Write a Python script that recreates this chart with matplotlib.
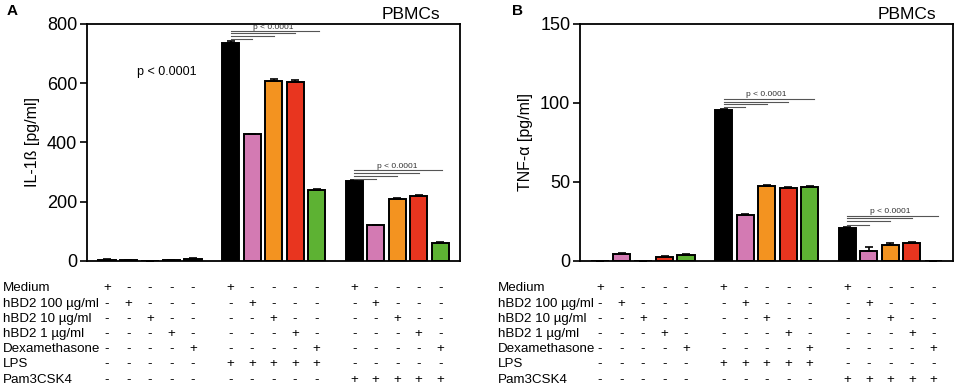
import matplotlib.pyplot as plt
import matplotlib.transforms as mtransforms

plt.rcParams['font.family'] = ['Liberation Sans', 'DejaVu Sans']

# 15 Bedingungen in 3 Gruppen (ohne Stimulus, LPS, Pam3CSK4)
treat_colors = ['#000000', '#d37ab3', '#f39320', '#e8351f', '#5db233']
il1b = [5, 4, 0, 2, 7, 736, 427, 606, 605, 241, 269, 120, 208, 220, 60]
il1b_err = [2, 1, 0, 1, 3, 8, 3, 8, 5, 3, 4, 3, 3, 4, 3]
tnfa = [0.3, 4.7, 0.2, 2.8, 3.8, 95.5, 29, 47.5, 46.3, 46.9, 20.9, 6.1, 10.4, 11.4, 0.3]
tnfa_err = [0, 0.6, 0, 0.5, 0.5, 0.8, 0.6, 0.6, 0.5, 0.5, 0.6, 2.5, 0.8, 0.6, 0]

row_labels = ['Medium', 'hBD2 100 µg/ml', 'hBD2 10 µg/ml', 'hBD2 1 µg/ml',
              'Dexamethasone', 'LPS', 'Pam3CSK4']
medium = ['+', '-', '-', '-', '-'] * 3
hbd2_100 = ['-', '+', '-', '-', '-'] * 3
hbd2_10 = ['-', '-', '+', '-', '-'] * 3
hbd2_1 = ['-', '-', '-', '+', '-'] * 3
dexa = ['-', '-', '-', '-', '+'] * 3
lps = ['-'] * 5 + ['+'] * 5 + ['-'] * 5
pam = ['-'] * 10 + ['+'] * 5
table_rows = [medium, hbd2_100, hbd2_10, hbd2_1, dexa, lps, pam]
row_y = [288, 304, 319, 334, 349, 364, 380]  # Pixelzeilen der Tabelle

# x-Positionen: 5 Balken pro Gruppe, Lücke zwischen den Gruppen
xpos = [g * 5.75 + i for g in range(3) for i in range(5)]
colors = treat_colors * 3

fig = plt.figure(figsize=(9.57, 3.90), dpi=100)
ax_a = fig.add_axes([0.0909, 0.3308, 0.3898, 0.6077])
ax_b = fig.add_axes([0.6061, 0.3308, 0.3898, 0.6077])


def draw_panel(ax, vals, errs, ymax, step, ylabel, pb_x):
    ax.bar(xpos, vals, width=0.8, color=colors, edgecolor='black', linewidth=1.4, zorder=2)
    ax.errorbar(xpos, vals, yerr=[[0] * len(errs), errs], fmt='none', ecolor='black',
                elinewidth=1.2, capsize=3, capthick=1.2, zorder=3)
    ax.set_xlim(-0.93, 16.42)
    ax.set_ylim(0, ymax)
    ax.set_yticks(range(0, ymax + 1, step))
    ax.set_xticks([])
    ax.tick_params(axis='y', direction='out', length=5, width=1.2, labelsize=13, pad=2)
    for s in ax.spines.values():
        s.set_linewidth(1.3)
    ax.set_ylabel(ylabel, fontsize=11.5, labelpad=5)
    ax.text(pb_x, 1.038, 'PBMCs', transform=ax.transAxes, ha='center', va='center',
            fontsize=12.5)

    # Tabelle unter der Achse
    trans = mtransforms.blended_transform_factory(ax.transData, fig.transFigure)
    for r, row in enumerate(table_rows):
        yf = 1 - row_y[r] / 390
        for x, sign in zip(xpos, row):
            ax.text(x, yf, sign, transform=trans, ha='center', va='center', fontsize=9.6,
                    clip_on=False)


def sig_lines(ax, start, ends, ys, text_x, text_y):
    for e, y in zip(ends, ys):
        ax.plot([start, e], [y, y], color='#555555', linewidth=0.8, zorder=4)
    ax.text(text_x, text_y, 'p < 0.0001', ha='center', va='bottom', fontsize=6,
            color='#333333')


draw_panel(ax_a, il1b, il1b_err, 800, 200, 'IL-1ß [pg/ml]', 0.869)
draw_panel(ax_b, tnfa, tnfa_err, 150, 50, 'TNF-α [pg/ml]', 0.877)

# Signifikanzlinien
sig_lines(ax_a, xpos[5], [xpos[6], xpos[7], xpos[8], xpos[9] + 0.1], [748, 759, 768, 777],
          xpos[7], 778)
sig_lines(ax_a, xpos[10], [xpos[11], xpos[12], xpos[13], xpos[14] + 0.1], [277, 287, 297, 306],
          xpos[12], 308)
sig_lines(ax_b, xpos[5], [xpos[6], xpos[7], xpos[8], xpos[9] + 0.2], [97.2, 99.3, 100.8, 102.7],
          xpos[7], 103.2)
sig_lines(ax_b, xpos[10], [xpos[11], xpos[12], xpos[13], xpos[14] + 0.2], [23, 25.3, 26.9, 28.5],
          xpos[12], 29)

ax_a.text(1.4, 637, 'p < 0.0001', ha='left', va='center', fontsize=9)

# Zeilenbeschriftungen
for r, lab in enumerate(row_labels):
    yf = 1 - row_y[r] / 390
    fig.text(0.003, yf, lab, ha='left', va='center', fontsize=9.6)
    fig.text(0.520, yf, lab, ha='left', va='center', fontsize=9.6)

fig.text(0.007, 0.99, 'A', fontsize=11, fontweight='bold', va='top')
fig.text(0.535, 0.99, 'B', fontsize=11, fontweight='bold', va='top')

fig.savefig('out.png', dpi=100)
